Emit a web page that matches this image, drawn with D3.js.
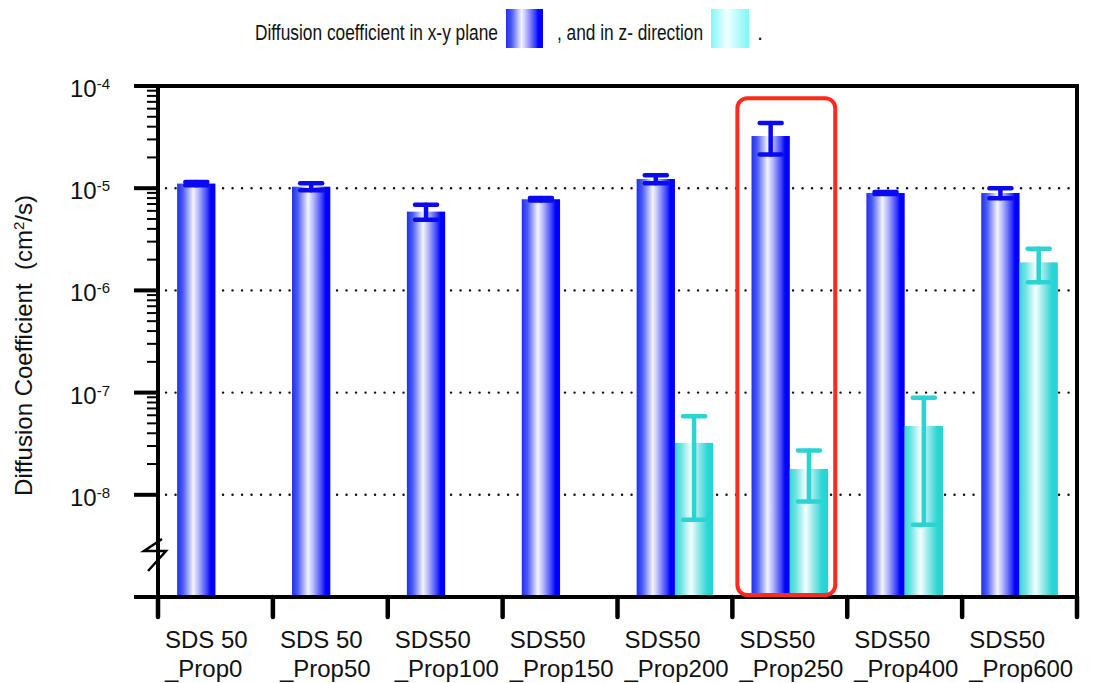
<!DOCTYPE html>
<html>
<head>
<meta charset="utf-8">
<script src="https://cdn.jsdelivr.net/npm/d3@7"></script>
<style>
  body { margin: 0; background: #fff; }
  text { font-family: "Liberation Sans", Arial, Helvetica, sans-serif; fill: #111; }
</style>
</head>
<body>
<script>
// category labels (two lines each)
var labelTop = ['SDS 50', 'SDS 50', 'SDS50', 'SDS50', 'SDS50', 'SDS50', 'SDS50', 'SDS50'];
var labelBottom = ['_Prop0', '_Prop50', '_Prop100', '_Prop150', '_Prop200', '_Prop250', '_Prop400', '_Prop600'];

// diffusion coefficient in x-y plane and its error
var xyValues = [1.11e-5, 1.035e-5, 5.9e-6, 7.8e-6, 1.23e-5, 3.24e-5, 8.97e-6, 8.97e-6];
var xyErrors = [0.04e-5, 0.08e-5, 1.0e-6, 0.2e-6, 0.11e-5, 1.1e-5, 0.2e-6, 1.0e-6];

// diffusion coefficient in z direction (not measured for the first four)
var zValues = [null, null, null, null, 3.22e-8, 1.79e-8, 4.71e-8, 1.88e-6];
var zErrors = [null, null, null, null, 2.65e-8, 0.93e-8, 4.2e-8, 0.68e-6];

// y tick exponents that get a label
var tickExponents = [-4, -5, -6, -7, -8];

// note: "top" is taken by window.top, so the plot edges get their own names
var W = 1093, H = 683;
var plotL = 158, plotR = 1077, plotT = 86, plotB = 597;

var svg = d3.select('body').append('svg')
  .attr('width', W)
  .attr('height', H);

var defs = svg.append('defs');

function gradient(id, stops) {
  var g = defs.append('linearGradient').attr('id', id)
    .attr('x1', '0%').attr('y1', '0%').attr('x2', '100%').attr('y2', '0%');
  g.selectAll('stop').data(stops).enter().append('stop')
    .attr('offset', function(d) { return d[0]; })
    .attr('stop-color', function(d) { return d[1]; });
}

gradient('blueGrad', [[0, '#1f30ee'], [0.15, '#4b5bf1'], [0.42, '#f4f4ff'], [0.55, '#b8bcfa'], [0.78, '#3c42fb'], [0.88, '#0000ff'], [1, '#0000ff']]);
gradient('cyanGrad', [[0, '#36d8d8'], [0.15, '#6ce2e2'], [0.42, '#f4ffff'], [0.6, '#9eeaea'], [0.85, '#2ad6d6'], [1, '#24d4d4']]);
gradient('cyanLegend', [[0, '#7ff8f8'], [0.42, '#f2ffff'], [1, '#7ff6f6']]);

var idx = d3.range(labelTop.length);

// scales
var x0 = d3.scaleBand().domain(idx).range([plotL, plotR]).padding(0);
var x1 = d3.scaleBand().domain(['xy', 'z']).range([0, x0.bandwidth()]).paddingInner(0).paddingOuter(0.5);
var y = d3.scaleLog().domain([1e-9, 1e-4]).range([plotB, plotT]);

// dotted grid lines
svg.append('g').selectAll('line')
  .data(tickExponents.filter(function(e) { return e < -4; }))
  .enter().append('line')
  .attr('x1', plotL + 8).attr('x2', plotR)
  .attr('y1', function(e) { return y(Math.pow(10, e)); })
  .attr('y2', function(e) { return y(Math.pow(10, e)); })
  .style('stroke', '#111')
  .style('stroke-width', 2.4)
  .style('stroke-linecap', 'round')
  .style('stroke-dasharray', '0.1,9.4');

// bars
var barData = [];
idx.forEach(function(i) {
  barData.push({ i: i, key: 'xy', v: xyValues[i], e: xyErrors[i] });
  if (zValues[i] != null) barData.push({ i: i, key: 'z', v: zValues[i], e: zErrors[i] });
});

svg.append('g').selectAll('rect')
  .data(barData)
  .enter().append('rect')
  .attr('x', function(d) { return x0(d.i) + x1(d.key); })
  .attr('width', x1.bandwidth())
  .attr('y', function(d) { return y(d.v); })
  .attr('height', function(d) { return plotB - y(d.v); })
  .style('fill', function(d) { return d.key === 'xy' ? 'url(#blueGrad)' : 'url(#cyanGrad)'; });

// error bars
var errColor = { xy: '#0a0af2', z: '#2bd3d3' };
var eb = svg.append('g').selectAll('g')
  .data(barData)
  .enter().append('g')
  .style('stroke', function(d) { return errColor[d.key]; })
  .style('stroke-width', 4.5)
  .style('stroke-linecap', 'round');

function cx(d) { return x0(d.i) + x1(d.key) + x1.bandwidth() / 2; }

eb.append('line')
  .attr('x1', cx).attr('x2', cx)
  .attr('y1', function(d) { return y(d.v + d.e); })
  .attr('y2', function(d) { return y(d.v - d.e); });
eb.append('line')
  .attr('x1', function(d) { return cx(d) - 11; }).attr('x2', function(d) { return cx(d) + 11; })
  .attr('y1', function(d) { return y(d.v + d.e); })
  .attr('y2', function(d) { return y(d.v + d.e); });
eb.append('line')
  .attr('x1', function(d) { return cx(d) - 11; }).attr('x2', function(d) { return cx(d) + 11; })
  .attr('y1', function(d) { return y(d.v - d.e); })
  .attr('y2', function(d) { return y(d.v - d.e); });

// frame: top and right border
svg.append('path')
  .attr('d', 'M' + (plotL - 24) + ',' + plotT + 'H' + plotR + 'V' + plotB)
  .style('fill', 'none').style('stroke', '#000').style('stroke-width', 4);

// left axis: minor ticks (only from 1e-8 upwards)
var minor = y.ticks().filter(function(t) {
  var m = Math.round(t / Math.pow(10, Math.floor(Math.log10(t) + 1e-9)));
  return t >= 1e-8 * 0.999 && m !== 1;
});
svg.append('g').selectAll('line')
  .data(minor)
  .enter().append('line')
  .attr('x1', plotL - 11).attr('x2', plotL)
  .attr('y1', function(d) { return y(d); })
  .attr('y2', function(d) { return y(d); })
  .style('stroke', '#000').style('stroke-width', 2);

// major ticks
svg.append('g').selectAll('line')
  .data(tickExponents.concat([-9]))
  .enter().append('line')
  .attr('x1', plotL - 24).attr('x2', plotL)
  .attr('y1', function(e) { return y(Math.pow(10, e)); })
  .attr('y2', function(e) { return y(Math.pow(10, e)); })
  .style('stroke', '#000').style('stroke-width', 4);

// axis lines
svg.append('line')
  .attr('x1', plotL).attr('x2', plotL).attr('y1', plotT).attr('y2', plotB + 2)
  .style('stroke', '#000').style('stroke-width', 4);
svg.append('line')
  .attr('x1', plotL - 24).attr('x2', plotR + 2).attr('y1', plotB).attr('y2', plotB)
  .style('stroke', '#000').style('stroke-width', 4);

// axis break mark
var by = y(Math.pow(10, -8.55));
svg.append('path')
  .attr('d', 'M' + (plotL + 4) + ',' + (by - 12) + 'L' + (plotL - 14) + ',' + by +
             'L' + (plotL + 8) + ',' + by + 'L' + (plotL - 10) + ',' + (by + 20))
  .style('fill', 'none').style('stroke', '#000').style('stroke-width', 2.5);

// y tick labels
var yl = svg.append('g').selectAll('text')
  .data(tickExponents)
  .enter().append('text')
  .attr('x', 110)
  .attr('y', function(e) { return y(Math.pow(10, e)) + 11; })
  .style('text-anchor', 'end');
yl.append('tspan').style('font-size', '24px').text('10');
yl.append('tspan').style('font-size', '15px').attr('dy', -8).text(function(e) { return e; });

// x ticks at category boundaries
svg.append('g').selectAll('line')
  .data(idx.concat([idx.length]))
  .enter().append('line')
  .attr('x1', function(i) { return plotL + i * x0.step(); })
  .attr('x2', function(i) { return plotL + i * x0.step(); })
  .attr('y1', plotB).attr('y2', plotB + 20)
  .style('stroke', '#000').style('stroke-width', 4.5)
  .style('stroke-linecap', 'round');

// x labels, left aligned inside each category slot
var xl = svg.append('g').selectAll('text')
  .data(idx)
  .enter().append('text')
  .style('font-size', '24px')
  .style('text-anchor', 'start')
  .attr('transform', function(i) { return 'translate(' + (x0(i) + 7) + ',0)'; });
xl.append('tspan').attr('x', 0).attr('y', 648).text(function(i) { return labelTop[i]; });
xl.append('tspan').attr('x', 0).attr('y', 677).text(function(i) { return labelBottom[i]; });

// y axis title
var yt = svg.append('text')
  .attr('transform', 'translate(32,' + ((plotT + plotB) / 2 + 4) + ') rotate(-90)')
  .style('text-anchor', 'middle')
  .style('font-size', '24px')
  .style('white-space', 'pre');
yt.append('tspan').text('Diffusion Coefficient  (cm');
yt.append('tspan').attr('dy', -8).style('font-size', '15px').text('2');
yt.append('tspan').attr('dy', 8).text('/s)');

// highlight box around _Prop250
svg.append('rect')
  .attr('x', x0(5) + 5)
  .attr('width', x0.bandwidth() - 17)
  .attr('y', y(7.6e-5))
  .attr('height', plotB - 2 - y(7.6e-5))
  .attr('rx', 10)
  .style('fill', 'none')
  .style('stroke', '#ff2a1c')
  .style('stroke-width', 4);

// legend (the original uses a condensed face, so squeeze the text to its width)
var legend = svg.append('g');
legend.append('text').attr('x', 255).attr('y', 40).style('font-size', '22px')
  .attr('textLength', 243).attr('lengthAdjust', 'spacingAndGlyphs')
  .text('Diffusion coefficient in x-y plane');
legend.append('rect').attr('x', 506).attr('y', 9).attr('width', 37).attr('height', 39)
  .style('fill', 'url(#blueGrad)');
legend.append('text').attr('x', 557).attr('y', 40).style('font-size', '22px')
  .attr('textLength', 146).attr('lengthAdjust', 'spacingAndGlyphs')
  .text(', and in z- direction');
legend.append('rect').attr('x', 711).attr('y', 9).attr('width', 38).attr('height', 39)
  .style('fill', 'url(#cyanLegend)');
legend.append('text').attr('x', 757).attr('y', 40).style('font-size', '22px').text('.');
</script>
</body>
</html>
